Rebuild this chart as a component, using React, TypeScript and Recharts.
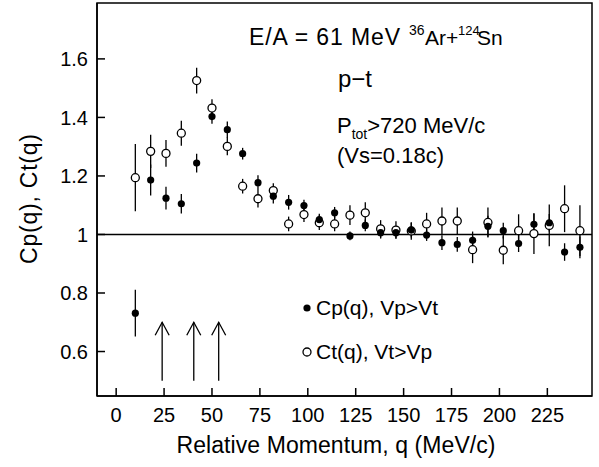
import React from "react";
import {
  ScatterChart,
  Scatter,
  XAxis,
  YAxis,
  ErrorBar,
  ReferenceLine,
  ReferenceArea,
  ReferenceDot,
  Legend,
  Customized,
} from "recharts";

const FONT = "'Liberation Sans', Arial, Helvetica, sans-serif";

// relative momentum q (MeV/c)
const qValues = [
  10, 18, 26, 34, 42, 50, 58, 66, 74, 82, 90, 98, 106, 114, 122, 130, 138, 146, 154, 162, 170, 178,
  186, 194, 202, 210, 218, 226, 234, 242,
];

// Cp(q), Vp>Vt  (filled)
const cpValues = [
  0.731, 1.186, 1.124, 1.105, 1.244, 1.403, 1.358, 1.276, 1.177, 1.131, 1.11, 1.099, 1.051, 1.074,
  0.995, 1.031, 1.006, 1.006, 1.015, 0.998, 0.972, 0.966, 0.98, 1.028, 1.013, 0.969, 1.035, 1.04,
  0.94, 0.956,
];
const cpErrors = [
  0.08, 0.053, 0.039, 0.033, 0.032, 0.025, 0.028, 0.02, 0.025, 0.025, 0.025, 0.02, 0.02, 0.02,
  0.015, 0.02, 0.02, 0.02, 0.025, 0.02, 0.025, 0.025, 0.03, 0.036, 0.027, 0.029, 0.035, 0.03, 0.03,
  0.037,
];

// Ct(q), Vt>Vp  (open)
const ctValues = [
  1.194, 1.284, 1.277, 1.346, 1.526, 1.432, 1.301, 1.165, 1.122, 1.15, 1.036, 1.068, 1.04, 1.036,
  1.066, 1.074, 1.019, 1.015, 1.012, 1.036, 1.046, 1.046, 0.948, 1.041, 0.946, 1.013, 1.003, 1.031,
  1.088, 1.013,
];
const ctErrors = [
  0.115, 0.057, 0.046, 0.043, 0.044, 0.03, 0.03, 0.025, 0.03, 0.025, 0.025, 0.025, 0.025, 0.025,
  0.034, 0.036, 0.03, 0.03, 0.03, 0.038, 0.046, 0.046, 0.046, 0.051, 0.048, 0.056, 0.07, 0.071, 0.08,
  0.087,
];

const xTicks = [0, 25, 50, 75, 100, 125, 150, 175, 200, 225];
const yTicks = [0.6, 0.8, 1, 1.2, 1.4, 1.6];

// arrows marking q positions
const arrowQ = [24, 40.5, 53.5];
const arrowFrom = 0.5;
const arrowTo = 0.7;

const legendItems = [
  { label: "Cp(q), Vp>Vt", filled: true },
  { label: "Ct(q), Vt>Vp", filled: false },
];

const cpData = qValues.map((q, i) => ({ q, v: cpValues[i], e: cpErrors[i] }));
const ctData = qValues.map((q, i) => ({ q, v: ctValues[i], e: ctErrors[i] }));

const X_DOMAIN: [number, number] = [-10, 248.3];
const Y_DOMAIN: [number, number] = [0.448, 1.791];

const FilledDot = (p: any) => <circle cx={p.cx} cy={p.cy} r={3.6} fill="#000" />;
const OpenDot = (p: any) => (
  <circle cx={p.cx} cy={p.cy} r={4} fill="#fff" stroke="#000" strokeWidth={1.3} />
);

const ArrowHead = (p: any) => (
  <path
    d={`M${p.cx - 7},${p.cy + 13} L${p.cx},${p.cy} L${p.cx + 7},${p.cy + 13}`}
    fill="none"
    stroke="#000"
    strokeWidth={1.3}
  />
);

const Annotations = () => (
  <g fontFamily={FONT} fill="#000">
    <text x={249} y={45} fontSize={23} textLength={151} lengthAdjust="spacing">
      E/A = 61 MeV
    </text>
    <text fontSize={21}>
      <tspan x={409} y={35} fontSize={14}>36</tspan>
      <tspan x={425} y={45}>Ar+</tspan>
      <tspan x={458} y={35} fontSize={13}>124</tspan>
      <tspan x={477} y={45}>Sn</tspan>
    </text>
    <text x={338} y={87} fontSize={24}>
      p−t
    </text>
    <text x={337} y={133} fontSize={22}>
      P<tspan fontSize={14} dy={6}>tot</tspan>
      <tspan dy={-6}>&gt;720 MeV/c</tspan>
    </text>
    <text x={337} y={163} fontSize={22}>
      (Vs=0.18c)
    </text>
    <text
      transform="rotate(-90)"
      x={-199}
      y={37}
      fontSize={23}
      textAnchor="middle"
      textLength={130}
      lengthAdjust="spacing"
    >
      Cp(q), Ct(q)
    </text>
    <text x={336} y={453} fontSize={23} textAnchor="middle" textLength={319} lengthAdjust="spacing">
      Relative Momentum, q (MeV/c)
    </text>
  </g>
);

const LegendBox = () => (
  <div style={{ fontFamily: FONT, fontSize: 21, color: "#000" }}>
    {legendItems.map((item) => (
      <div
        key={item.label}
        style={{ display: "flex", alignItems: "center", height: 22, marginBottom: 22 }}
      >
        <svg width={17} height={16}>
          {item.filled ? (
            <circle cx={8} cy={8} r={3.6} fill="#000" />
          ) : (
            <circle cx={8} cy={8} r={4} fill="#fff" stroke="#000" strokeWidth={1.3} />
          )}
        </svg>
        <span style={{ whiteSpace: "nowrap" }}>{item.label}</span>
      </div>
    ))}
  </div>
);

export default function App() {
  const tickStyle = { fill: "#000", fontSize: 20, fontFamily: FONT };
  return (
    <div style={{ position: "absolute", left: 0, top: 0, background: "#fff" }}>
      <ScatterChart width={599} height={467} margin={{ top: 3, right: 7, bottom: 0, left: 0 }}>
        <XAxis
          type="number"
          dataKey="q"
          domain={X_DOMAIN}
          ticks={xTicks}
          allowDataOverflow
          height={71}
          tick={tickStyle}
          tickSize={-8}
          tickMargin={20}
          axisLine={{ stroke: "#000", strokeWidth: 1.5 }}
          tickLine={{ stroke: "#000", strokeWidth: 1.5 }}
        />
        <YAxis
          type="number"
          dataKey="v"
          domain={Y_DOMAIN}
          ticks={yTicks}
          allowDataOverflow
          width={97}
          tick={tickStyle}
          tickSize={-8}
          tickMargin={17}
          axisLine={{ stroke: "#000", strokeWidth: 1.5 }}
          tickLine={{ stroke: "#000", strokeWidth: 1.5 }}
        />
        <ReferenceArea
          x1={X_DOMAIN[0]}
          x2={X_DOMAIN[1]}
          y1={Y_DOMAIN[0]}
          y2={Y_DOMAIN[1]}
          fill="none"
          fillOpacity={0}
          stroke="#000"
          strokeWidth={1.5}
        />
        <ReferenceLine y={1} stroke="#000" strokeWidth={1.5} />
        {arrowQ.map((q) => (
          <ReferenceLine
            key={`shaft-${q}`}
            segment={[
              { x: q, y: arrowFrom },
              { x: q, y: arrowTo },
            ]}
            stroke="#000"
            strokeWidth={1.3}
          />
        ))}
        {arrowQ.map((q) => (
          <ReferenceDot key={`head-${q}`} x={q} y={arrowTo} r={0} shape={ArrowHead} />
        ))}
        <Scatter name="Ct" data={ctData} shape={OpenDot} isAnimationActive={false}>
          <ErrorBar dataKey="e" direction="y" width={0} stroke="#000" strokeWidth={1.3} />
        </Scatter>
        <Scatter name="Cp" data={cpData} shape={FilledDot} isAnimationActive={false}>
          <ErrorBar dataKey="e" direction="y" width={0} stroke="#000" strokeWidth={1.3} />
        </Scatter>
        <Legend
          layout="vertical"
          align="center"
          verticalAlign="middle"
          content={LegendBox}
          wrapperStyle={{ left: 299, top: 297, width: 170 }}
        />
        <Customized component={Annotations} />
      </ScatterChart>
    </div>
  );
}
